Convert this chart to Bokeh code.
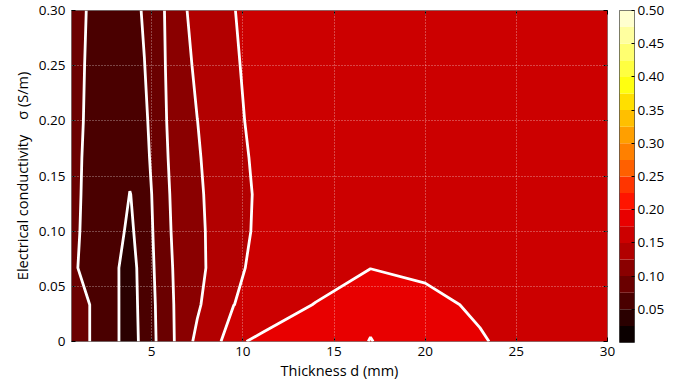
import numpy as np
from bokeh.plotting import figure
from bokeh.layouts import row
from bokeh.models import (Range1d, FixedTicker, NumeralTickFormatter, LinearAxis)
from bokeh.embed import file_html
from bokeh.resources import INLINE

# grid nodes
thickness_mm = [0.6, 2.0, 3.0, 3.8, 4.6, 5.5, 6.5, 7.5, 8.5, 9.5, 11.0, 14.0, 17.0, 20.0, 23.0, 26.0, 30.0]
conductivity = [0.0, 0.0333, 0.0667, 0.1, 0.1333, 0.1667, 0.2, 0.25, 0.3]

# fitness value per conductivity row (one value per thickness node)
fit_s000 = [0.085, 0.071, 0.0514, 0.0459, 0.0529, 0.084, 0.1056, 0.1315, 0.1408, 0.1715, 0.179, 0.188, 0.2005, 0.19, 0.177, 0.165, 0.163]
fit_s033 = [0.085, 0.071, 0.0519, 0.0444, 0.055, 0.085, 0.1061, 0.121, 0.141, 0.1497, 0.161, 0.176, 0.1963, 0.1807, 0.1717, 0.167, 0.165]
fit_s067 = [0.0813, 0.056, 0.053, 0.041, 0.060, 0.0855, 0.1078, 0.12, 0.1306, 0.146, 0.1555, 0.162, 0.1745, 0.171, 0.168, 0.166, 0.164]
fit_s100 = [0.085, 0.0546, 0.0583, 0.045, 0.064, 0.0855, 0.1114, 0.119, 0.1326, 0.145, 0.153, 0.164, 0.170, 0.168, 0.166, 0.165, 0.163]
fit_s133 = [0.085, 0.0581, 0.065, 0.0495, 0.0575, 0.0969, 0.1032, 0.119, 0.1361, 0.145, 0.1524, 0.163, 0.168, 0.167, 0.166, 0.165, 0.163]
fit_s167 = [0.085, 0.0604, 0.057, 0.055, 0.066, 0.0949, 0.1077, 0.121, 0.141, 0.146, 0.1532, 0.164, 0.168, 0.167, 0.166, 0.165, 0.163]
fit_s200 = [0.085, 0.0635, 0.058, 0.056, 0.070, 0.0946, 0.1115, 0.1248, 0.137, 0.147, 0.1545, 0.165, 0.168, 0.167, 0.166, 0.165, 0.163]
fit_s250 = [0.085, 0.0655, 0.060, 0.060, 0.0745, 0.096, 0.112, 0.1303, 0.139, 0.146, 0.1631, 0.166, 0.168, 0.167, 0.166, 0.165, 0.163]
fit_s300 = [0.085, 0.0677, 0.062, 0.064, 0.0782, 0.097, 0.112, 0.1415, 0.144, 0.1492, 0.162, 0.165, 0.167, 0.166, 0.165, 0.164, 0.162]

levels = [0.0, 0.025, 0.05, 0.075, 0.1, 0.125, 0.15, 0.175, 0.2, 0.225, 0.25,
          0.275, 0.3, 0.325, 0.35, 0.375, 0.4, 0.425, 0.45, 0.475, 0.5]
x_ticks = [5, 10, 15, 20, 25, 30]
y_ticks = [0.0, 0.05, 0.1, 0.15, 0.2, 0.25, 0.3]
cb_ticks = [0.05, 0.1, 0.15, 0.2, 0.25, 0.3, 0.35, 0.4, 0.45, 0.5]

# "hot" style palette (one colour per band)
palette = ["#0b0000", "#2a0000", "#4a0000", "#6a0000", "#8a0000", "#b20000",
           "#cc0000", "#e80000", "#ff1500", "#ff3500", "#ff6000", "#ff8000",
           "#ff9f00", "#ffbf00", "#ffdf00", "#ffff10", "#ffff40", "#ffff70",
           "#ffff9f", "#ffffcf"]

FONT = "Open Sans"

Z = np.array([fit_s000, fit_s033, fit_s067, fit_s100, fit_s133, fit_s167,
              fit_s200, fit_s250, fit_s300])
X, Y = np.meshgrid(np.array(thickness_mm), np.array(conductivity))

p = figure(frame_width=536, frame_height=331, output_backend="svg",
           toolbar_location=None,
           x_range=Range1d(thickness_mm[0], thickness_mm[-1]),
           y_range=Range1d(0, 0.3),
           min_border_left=71, min_border_top=10, min_border_bottom=40,
           min_border_right=12)
p.background_fill_color = "white"
p.outline_line_color = "#808080"
p.outline_line_width = 1

p.contour(x=X, y=Y, z=Z, levels=levels, fill_color=palette,
          line_color="white", line_width=2.8)

# axes
for ax in (p.xaxis[0], p.yaxis[0]):
    ax.axis_line_color = None
    ax.major_tick_in = 4
    ax.major_tick_out = 0
    ax.minor_tick_line_color = None
    ax.major_tick_line_color = "black"
    ax.major_label_text_font = FONT
    ax.major_label_text_font_size = "13.5px"
    ax.major_label_text_color = "black"
    ax.axis_label_text_font = FONT
    ax.axis_label_text_font_size = "14.5px"
    ax.axis_label_text_font_style = "normal"
    ax.axis_label_text_color = "black"

p.xaxis.ticker = FixedTicker(ticks=x_ticks)
p.yaxis.ticker = FixedTicker(ticks=y_ticks)
p.yaxis.formatter = NumeralTickFormatter(format="0.00")
p.yaxis.major_label_overrides = {0: "0"}
p.xaxis.axis_label = "Thickness d (mm)"
p.yaxis.axis_label = "Electrical conductivity\u00a0\u00a0\u00a0\u00a0\u03c3 (S/m)"
p.xaxis.major_label_standoff = 5
p.xaxis.axis_label_standoff = 2
p.yaxis.major_label_standoff = 6
p.yaxis.axis_label_standoff = 4

# box ticks on the top and right edges (no labels)
top_ax = LinearAxis(ticker=FixedTicker(ticks=x_ticks), axis_line_color=None,
                    major_tick_in=4, major_tick_out=0, minor_tick_line_color=None,
                    major_label_overrides={t: "" for t in x_ticks},
                    major_label_standoff=0, major_tick_line_color="black")
right_ax = LinearAxis(ticker=FixedTicker(ticks=y_ticks), axis_line_color=None,
                      major_tick_in=4, major_tick_out=0, minor_tick_line_color=None,
                      major_label_overrides={t: "" for t in y_ticks},
                      major_label_standoff=0, major_tick_line_color="black")
p.add_layout(top_ax, "above")
p.add_layout(right_ax, "right")

# grid on top of the fill
for g in (p.xgrid[0], p.ygrid[0]):
    g.level = "overlay"
    g.grid_line_color = "white"
    g.grid_line_alpha = 0.55
    g.grid_line_dash = "1 2"
    g.grid_line_width = 1
p.xgrid.ticker = FixedTicker(ticks=x_ticks[:-1])
p.ygrid.ticker = FixedTicker(ticks=y_ticks[1:-1])

# colour bar drawn as its own narrow figure, one band per contour interval
cb = figure(frame_width=15, frame_height=332, output_backend="svg",
            toolbar_location=None, x_range=Range1d(0, 1),
            y_range=Range1d(levels[0], levels[-1]),
            y_axis_location="right", x_axis_location=None,
            min_border_left=0, min_border_top=9, min_border_bottom=40,
            min_border_right=4)
cb.quad(left=0, right=1, bottom=levels[:-1], top=levels[1:],
        fill_color=palette, line_color=None)
cb.grid.visible = False
cb.outline_line_color = "#505050"
cb.outline_line_width = 1
cax = cb.yaxis[0]
cax.ticker = FixedTicker(ticks=cb_ticks)
cax.formatter = NumeralTickFormatter(format="0.00")
cax.axis_line_color = None
cax.major_tick_in = 3
cax.major_tick_out = 0
cax.minor_tick_line_color = None
cax.major_tick_line_color = "black"
cax.major_label_text_font = FONT
cax.major_label_text_font_size = "13.5px"
cax.major_label_text_color = "black"
cax.major_label_standoff = 3

layout = row(p, cb, spacing=0)
open("out.html", "w").write(file_html(layout, INLINE))
